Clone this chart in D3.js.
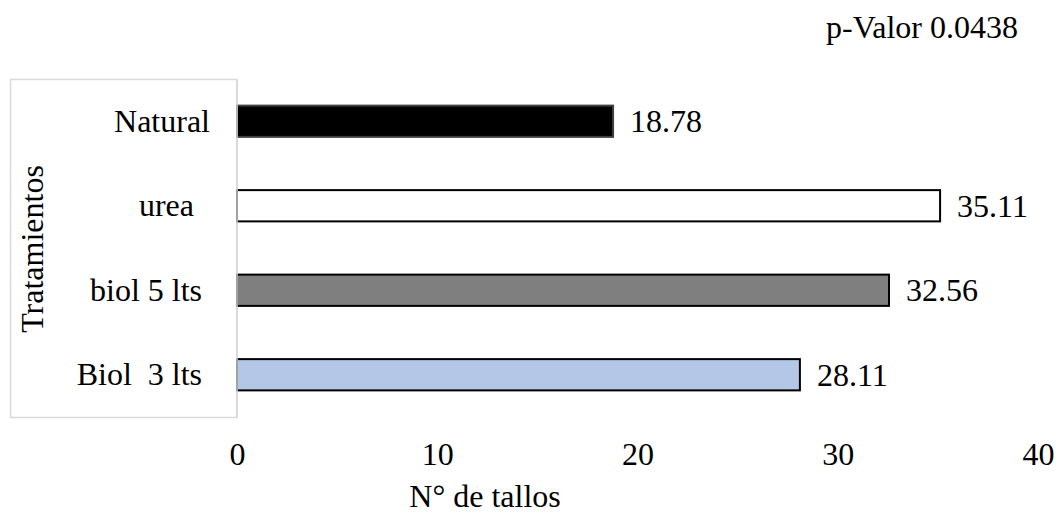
<!DOCTYPE html>
<html>
<head>
<meta charset="utf-8">
<script src="https://cdn.jsdelivr.net/npm/d3@7"></script>
<style>
  html, body { margin: 0; padding: 0; background: #fff; }
  svg text { font-family: "Liberation Serif", "Times New Roman", serif; fill: #000; white-space: pre; }
</style>
</head>
<body>
<svg id="chart" width="1060" height="516"></svg>
<script>
// Treatments, top to bottom, with the mean number of stems for each
const categories = ["Natural", "urea  ", "biol 5 lts ", "Biol  3 lts "];
const values = [18.78, 35.11, 32.56, 28.11];
const fills = ["#000000", "#ffffff", "#7f7f7f", "#b4c7e7"];
const tickValues = [0, 10, 20, 30, 40];
const pValueText = "p-Valor 0.0438";
const xTitle = "N° de tallos";
const yTitle = "Tratamientos";

const svg = d3.select("#chart");
const fontSize = 32;

const plot = { left: 237, right: 1038, top: 79, bottom: 417 };

const x = d3.scaleLinear().domain([0, 40]).range([plot.left, plot.right]);
const y = d3.scaleBand()
  .domain(categories)
  .range([plot.top, plot.bottom])
  .paddingInner(0.63)
  .paddingOuter(0.315);

// Framed panel behind the category labels
svg.append("rect")
  .attr("x", 10.5).attr("y", plot.top + 0.5)
  .attr("width", plot.left - 10.5).attr("height", plot.bottom - plot.top)
  .attr("fill", "#fff")
  .attr("stroke", "#d9d9d9")
  .attr("stroke-width", 1.5);

// Bars
svg.append("g").selectAll("rect")
  .data(categories)
  .join("rect")
  .attr("x", x(0))
  .attr("y", d => y(d))
  .attr("width", (d, i) => x(values[i]) - x(0))
  .attr("height", y.bandwidth())
  .attr("fill", (d, i) => fills[i])
  .attr("stroke", (d, i) => i === 0 ? "#404040" : "#000")
  .attr("stroke-width", 2);

// Value axis line on the left of the bars
svg.append("line")
  .attr("x1", x(0)).attr("x2", x(0))
  .attr("y1", plot.top).attr("y2", plot.bottom)
  .attr("stroke", "#d9d9d9").attr("stroke-width", 1.5);

// Category labels
const yAxis = svg.append("g")
  .attr("transform", `translate(${x(0) - 27},0)`)
  .call(d3.axisLeft(y).tickSize(0).tickPadding(0));
yAxis.select(".domain").remove();
yAxis.selectAll("text")
  .style("font-size", fontSize + "px")
  .attr("dy", "0.33em");

// Value labels at the bar ends
svg.append("g").selectAll("text")
  .data(categories)
  .join("text")
  .attr("x", (d, i) => x(values[i]) + 17)
  .attr("y", d => y(d) + y.bandwidth() / 2)
  .attr("dy", "0.35em")
  .style("font-size", fontSize + "px")
  .text((d, i) => values[i].toFixed(2));

// Bottom tick labels
const xAxis = svg.append("g")
  .attr("transform", `translate(0,${plot.bottom})`)
  .call(d3.axisBottom(x).tickValues(tickValues).tickSize(0).tickPadding(25).tickFormat(d3.format("d")));
xAxis.select(".domain").remove();
xAxis.selectAll("text").style("font-size", fontSize + "px");

// Axis titles
svg.append("text")
  .attr("x", 485).attr("y", 507)
  .attr("text-anchor", "middle")
  .style("font-size", fontSize + "px")
  .text(xTitle);

svg.append("text")
  .attr("transform", "translate(43,249) rotate(-90)")
  .attr("text-anchor", "middle")
  .style("font-size", fontSize + "px")
  .text(yTitle);

// p-value note
svg.append("text")
  .attr("x", 1018).attr("y", 38)
  .attr("text-anchor", "end")
  .style("font-size", fontSize + "px")
  .text(pValueText);
</script>
</body>
</html>
